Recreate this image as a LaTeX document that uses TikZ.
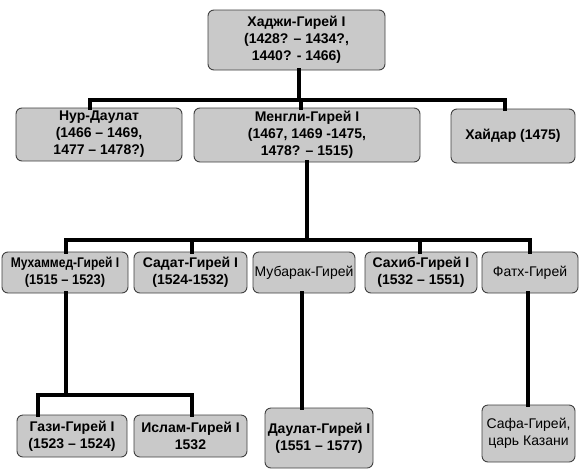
\documentclass[tikz,border=0pt]{standalone}
\usepackage{fontspec}
\setmainfont{Liberation Sans}
\begin{document}
\begin{tikzpicture}[x=1pt,y=-1pt,
  box/.style={draw=black!75, line width=0.9pt, rounded corners=6pt, fill=gray!42,
    align=center, inner sep=1pt, font=\fontsize{14}{17}\selectfont\bfseries},
  lightbox/.style={box, font=\fontsize{14}{17}\selectfont},
  conn/.style={line width=4pt, draw=black, line cap=rect}]
\useasboundingbox (0,0) rectangle (585,474);
\fill[white] (0,0) rectangle (585,474);
% level 1
\node[box, minimum width=177pt, minimum height=60pt] (top) at (296.5,40) {Хаджи-Гирей I\\(1428? – 1434?,\\1440? - 1466)};
% level 2
\node[box, minimum width=166pt, minimum height=53pt] (nur) at (99,134.5) {Нур-Даулат\\(1466 – 1469,\\1477 – 1478?)};
\node[box, minimum width=226pt, minimum height=54pt] (mengli) at (307,135) {Менгли-Гирей I\\(1467, 1469 -1475,\\1478? – 1515)};
\node[box, minimum width=124pt, minimum height=54pt] (khaidar) at (513,136) {Хайдар (1475)};
% level 3
\node[box, minimum width=126pt, minimum height=41pt] (muh) at (65,272.5) {\scalebox{0.86}[1]{Мухаммед-Гирей I}\\\scalebox{0.92}[1]{(1515 – 1523)}};
\node[box, minimum width=113pt, minimum height=41pt] (sadat) at (190.5,272.5) {Садат-Гирей I\\(1524-1532)};
\node[lightbox, minimum width=102pt, minimum height=41pt] (mubarak) at (304,272.5) {Мубарак-Гирей};
\node[box, minimum width=112pt, minimum height=41pt] (sahib) at (421,272.5) {Сахиб-Гирей I\\(1532 – 1551)};
\node[lightbox, minimum width=96pt, minimum height=41pt] (fatkh) at (530,272.5) {Фатх-Гирей};
% level 4
\node[box, minimum width=110pt, minimum height=42pt] (gazi) at (72,436) {Гази-Гирей I\\(1523 – 1524)};
\node[box, minimum width=113pt, minimum height=42pt] (islam) at (190.5,436) {Ислам-Гирей I\\1532};
\node[box, minimum width=108pt, minimum height=60pt] (daulat) at (319,438) {Даулат-Гирей I\\(1551 – 1577)};
\node[lightbox, minimum width=93pt, minimum height=57pt] (safa) at (528.5,433.5) {Сафа-Гирей,\\царь Казани};
% buses
\coordinate (busA) at (0,100);
\coordinate (busB) at (0,240);
\coordinate (busC) at (0,395);
% connectors level 1 -> 2
\draw[conn] ([xshift=2.5pt]top.south) -- ([xshift=2.5pt]top.south |- busA);
\draw[conn] ([xshift=-9pt]nur.north) -- ([xshift=-9pt]nur.north |- busA) -- ([xshift=-8pt]khaidar.north |- busA) -- ([xshift=-8pt]khaidar.north);
\draw[conn] ([xshift=-6pt]mengli.north) -- ([xshift=-6pt]mengli.north |- busA);
% level 2 -> 3
\draw[conn] (mengli.south) -- (mengli.south |- busB);
\draw[conn] ([xshift=1pt]muh.north) -- ([xshift=1pt]muh.north |- busB) -- (fatkh.north |- busB) -- (fatkh.north);
\draw[conn] ([xshift=1.5pt]sadat.north) -- ([xshift=1.5pt]sadat.north |- busB);
\draw[conn] ([xshift=-1pt]sahib.north) -- ([xshift=-1pt]sahib.north |- busB);
% level 3 -> 4
\draw[conn] ([xshift=1pt]muh.south) -- ([xshift=1pt]muh.south |- busC);
\draw[conn] ([xshift=-34pt]gazi.north) -- ([xshift=-34pt]gazi.north |- busC) -- ([xshift=1.5pt]islam.north |- busC) -- ([xshift=1.5pt]islam.north);
\draw[conn] ([xshift=-2pt]mubarak.south) -- ([xshift=-17pt]daulat.north);
\draw[conn] ([xshift=-2pt]fatkh.south) -- ([xshift=-0.5pt]safa.north);
\end{tikzpicture}
\end{document}
